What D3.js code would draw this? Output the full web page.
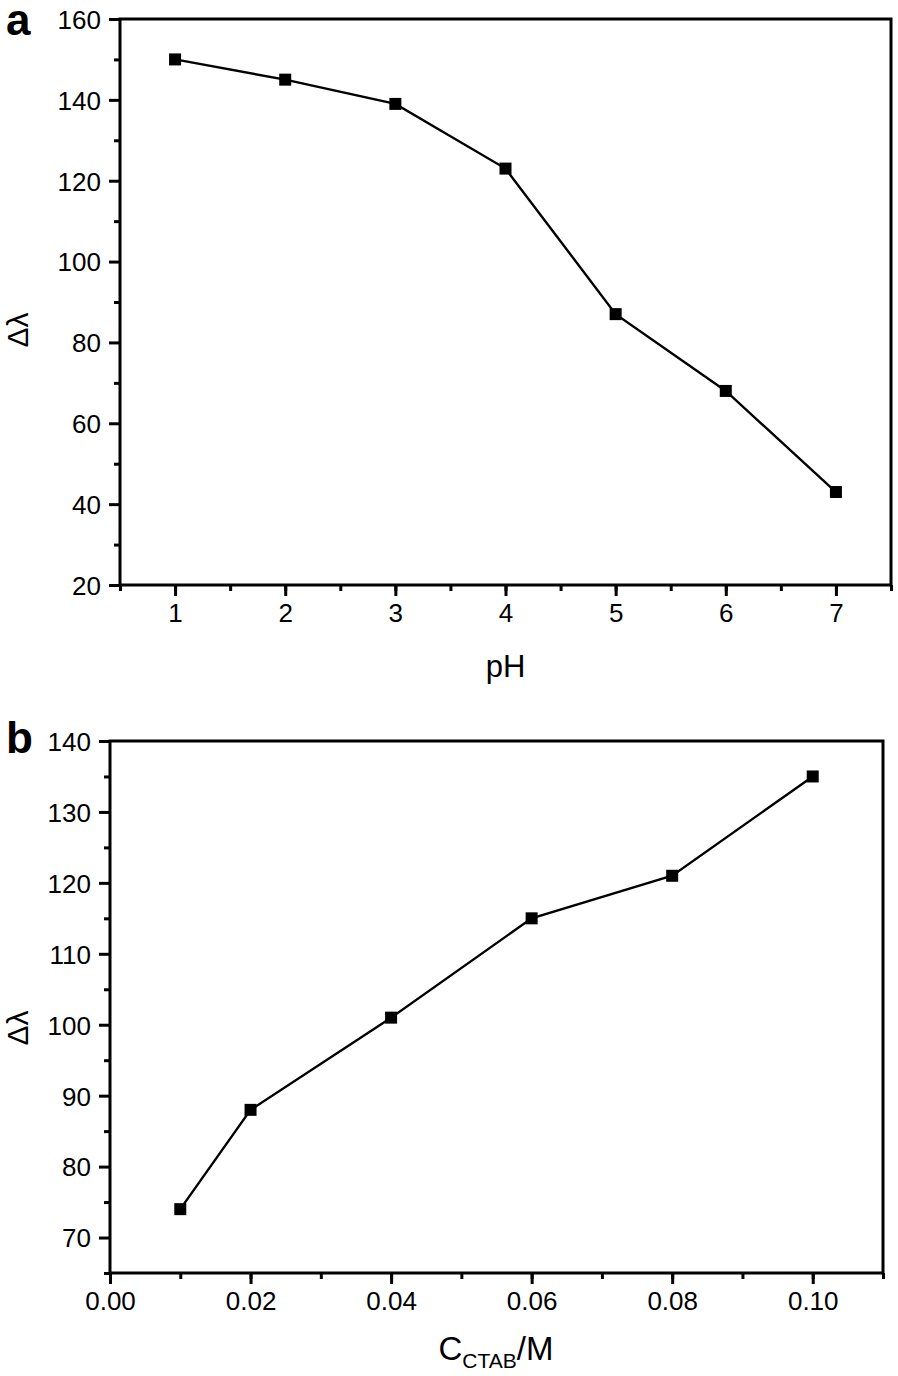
<!DOCTYPE html>
<html>
<head>
<meta charset="utf-8">
<script src="https://cdn.jsdelivr.net/npm/d3@7"></script>
<style>
  body { margin: 0; background: #fff; }
  svg { display: block; font-family: "Liberation Sans", Arial, sans-serif; }
</style>
</head>
<body>
<svg width="898" height="1376"></svg>
<script>
'use strict';

// panel a: pH dependence
const ph_values = [1, 2, 3, 4, 5, 6, 7];
const ph_shift = [150, 145, 139, 123, 87, 68, 43];
const ph_ticks = [1, 2, 3, 4, 5, 6, 7];
const ph_y_ticks = [20, 40, 60, 80, 100, 120, 140, 160];

// panel b: CTAB concentration dependence
const ctab_values = [0.01, 0.02, 0.04, 0.06, 0.08, 0.10];
const ctab_shift = [74, 88, 101, 115, 121, 135];
const ctab_ticks = [0.00, 0.02, 0.04, 0.06, 0.08, 0.10];
const ctab_y_ticks = [70, 80, 90, 100, 110, 120, 130, 140];

const svg = d3.select('svg');

function draw_panel(cfg) {
  const x = d3.scaleLinear().domain(cfg.xdomain).range([cfg.left, cfg.right]);
  const y = d3.scaleLinear().domain(cfg.ydomain).range([cfg.bottom, cfg.top]);
  const g = svg.append('g');

  // frame
  g.append('rect')
    .attr('x', cfg.left).attr('y', cfg.top)
    .attr('width', cfg.right - cfg.left).attr('height', cfg.bottom - cfg.top)
    .attr('fill', 'none').attr('stroke', '#000').attr('stroke-width', 3);

  // minor ticks
  const xminor = g.append('g').attr('transform', `translate(0,${cfg.bottom})`)
    .call(d3.axisBottom(x).tickValues(cfg.xminor).tickSize(6).tickFormat(''));
  const yminor = g.append('g').attr('transform', `translate(${cfg.left},0)`)
    .call(d3.axisLeft(y).tickValues(cfg.yminor).tickSize(6).tickFormat(''));

  // major ticks
  const xaxis = g.append('g').attr('transform', `translate(0,${cfg.bottom})`)
    .call(d3.axisBottom(x).tickValues(cfg.xticks).tickSize(11).tickPadding(8)
      .tickFormat(cfg.xfmt));
  const yaxis = g.append('g').attr('transform', `translate(${cfg.left},0)`)
    .call(d3.axisLeft(y).tickValues(cfg.yticks).tickSize(11).tickPadding(cfg.ypad)
      .tickFormat(d3.format('d')));

  for (const a of [xminor, yminor, xaxis, yaxis]) {
    a.select('.domain').remove();
    a.selectAll('line').attr('stroke', '#000').attr('stroke-width', 3);
    a.selectAll('text').attr('fill', '#000').style('font-size', '26px')
      .style('font-family', '"Liberation Sans", Arial, sans-serif');
  }
  yaxis.selectAll('text').attr('dy', '0.36em');

  // line and markers
  const pts = cfg.xs.map((v, i) => [v, cfg.ys[i]]);
  g.append('path').datum(pts)
    .attr('fill', 'none').attr('stroke', '#000').attr('stroke-width', 2.4)
    .attr('d', d3.line().x(d => x(d[0])).y(d => y(d[1])));
  g.selectAll('rect.pt').data(pts).enter().append('rect')
    .attr('class', 'pt')
    .attr('x', d => x(d[0]) - 6).attr('y', d => y(d[1]) - 6)
    .attr('width', 12).attr('height', 12).attr('fill', '#000');

  // panel letter
  g.append('text').attr('x', 6).attr('y', cfg.letterY)
    .style('font-size', '44px').style('font-weight', 'bold').text(cfg.letter);

  // y title
  g.append('text')
    .attr('transform', `translate(28,${cfg.ytitleY}) rotate(-90)`)
    .attr('text-anchor', 'middle')
    .style('font-size', '30px').text('Δλ');

  return {x, y, g};
}

const pa = draw_panel({
  left: 120, right: 891, top: 19, bottom: 585,
  xdomain: [0.5, 7.5], ydomain: [20, 160],
  xticks: ph_ticks, yticks: ph_y_ticks,
  xminor: d3.range(0.5, 7.6, 0.5), yminor: d3.range(30, 160, 20),
  xfmt: d3.format('d'), ypad: 8,
  xs: ph_values, ys: ph_shift,
  letter: 'a', letterY: 35, ytitleY: 330
});
pa.g.append('text').attr('x', (120 + 891) / 2).attr('y', 677)
  .attr('text-anchor', 'middle').style('font-size', '31px').text('pH');

const pb = draw_panel({
  left: 110, right: 883, top: 741, bottom: 1273,
  xdomain: [0, 0.11], ydomain: [65, 140],
  xticks: ctab_ticks, yticks: ctab_y_ticks,
  xminor: d3.range(0, 0.115, 0.01), yminor: d3.range(65, 140, 10),
  xfmt: d3.format('.2f'), ypad: 8,
  xs: ctab_values, ys: ctab_shift,
  letter: 'b', letterY: 753, ytitleY: 1028
});
const ct = pb.g.append('text').attr('x', 496).attr('y', 1360)
  .attr('text-anchor', 'middle').style('font-size', '33px');
ct.append('tspan').text('C');
ct.append('tspan').attr('dy', 8).style('font-size', '21px').text('CTAB');
ct.append('tspan').attr('dy', -8).text('/M');
</script>
</body>
</html>
